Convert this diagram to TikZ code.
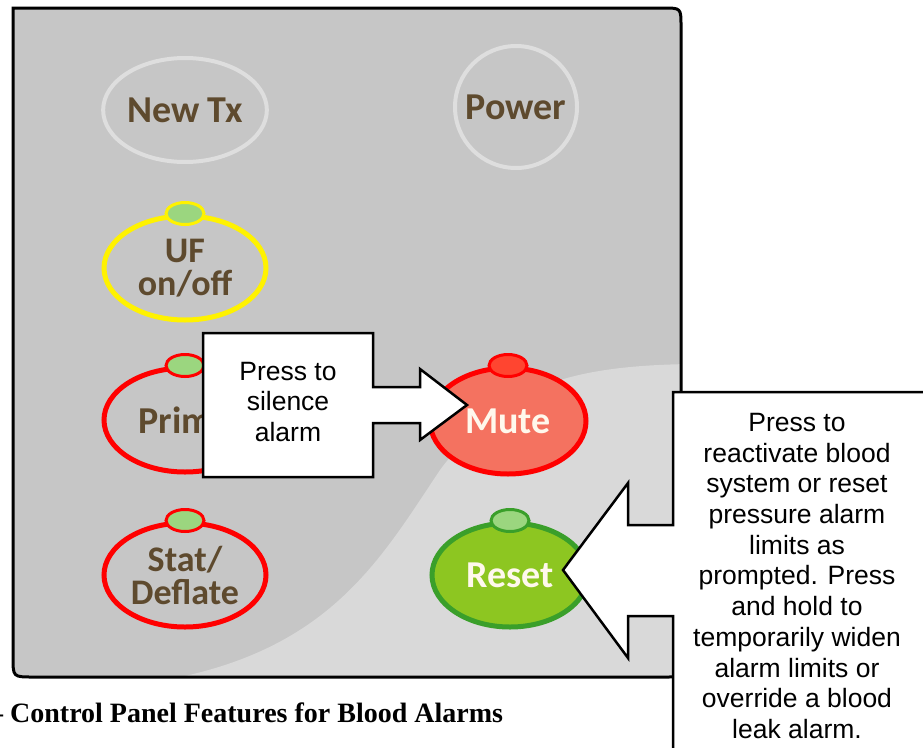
\documentclass[tikz,border=0pt]{standalone}
\usepackage{fontspec}
\setmainfont{Liberation Sans}
\newfontfamily\keyfont{Carlito}
\newfontfamily\capfont{Liberation Serif}
\usetikzlibrary{shapes.geometric}
\definecolor{panelgray}{HTML}{C6C6C6}
\definecolor{panellight}{HTML}{D9D9D9}
\definecolor{ringgray}{HTML}{DEDEDE}
\definecolor{keybrown}{HTML}{5E4A2E}
\definecolor{ledgreen}{HTML}{9BD67F}
\definecolor{mutefill}{HTML}{F47260}
\definecolor{muteled}{HTML}{FF4530}
\definecolor{resetfill}{HTML}{8DC621}
\definecolor{resetring}{HTML}{3A9F2A}
\definecolor{keywhite}{HTML}{FFF8EC}
\begin{document}
\begin{tikzpicture}[x=1pt, y=-1pt,
  key/.style={draw, ellipse, line width=5pt, minimum width=162pt, minimum height=104pt,
    inner sep=0pt, align=center, text=keybrown, font=\keyfont\bfseries\fontsize{38}{33}\selectfont},
  twoline/.style={font=\keyfont\bfseries\fontsize{36}{33}\selectfont},
  led/.style={draw, ellipse, line width=3pt, minimum width=38pt, minimum height=22pt,
    inner sep=0pt, fill=ledgreen},
  note/.style={align=center, font=\fontsize{26.5}{30.7}\selectfont},
  callout/.style={draw, fill=white, line width=2.5pt, line join=miter}]
\useasboundingbox (0,0) rectangle (923,747);

% Panel
\fill[panelgray] (13,8) -- (663,8) .. controls (681,8) .. (681,26) -- (681,662)
  .. controls (681,677) .. (666,677) -- (33,677) .. controls (13,677) .. (13,657) -- cycle;
\begin{scope}
\clip (13,8) -- (663,8) .. controls (681,8) .. (681,26) -- (681,662)
  .. controls (681,677) .. (666,677) -- (33,677) .. controls (13,677) .. (13,657) -- cycle;
\fill[panellight] (165,680) .. controls (330,650) and (380,560) .. (440,470)
  .. controls (500,390) and (560,366) .. (690,364) -- (690,690) -- cycle;
\end{scope}
\draw[line width=3pt] (13,8) -- (663,8) .. controls (681,8) .. (681,26) -- (681,662)
  .. controls (681,677) .. (666,677) -- (33,677) .. controls (13,677) .. (13,657) -- cycle;

% Top keys
\node[key, draw=ringgray, line width=4pt] (newtx) at (185,110) {New Tx};
\node[key, draw=ringgray, line width=4pt, circle, minimum size=122pt] (power) at (516,107) {Power};

% Left column
\node[key, twoline, draw=yellow] (uf) at (185,268) {UF\\on/off};
\node[led, draw=yellow] (ufled) at (uf.north) {};
\node[key, draw=red] (prime) at (185,420) {Prime};
\node[led, draw=red] (primeled) at (prime.north) {};
\node[key, twoline, draw=red] (stat) at (185,575) {Stat/\\Deflate};
\node[led, draw=red] (statled) at (stat.north) {};

% Right column
\node[key, draw=red, fill=mutefill, text=keywhite, minimum width=156pt, minimum height=106pt] (mute) at (508,421) {Mute};
\node[led, draw=red, fill=muteled] (muteled) at (mute.north) {};
\node[key, draw=resetring, fill=resetfill, text=keywhite, minimum width=156pt, minimum height=104pt] (reset) at (510,575) {Reset};
\node[led, draw=resetring] (resetled) at (reset.north) {};

% Callouts
\draw[callout] (203,333) -- (373,333) -- (373,387) -- (420,387) -- (420,369) -- (467,405)
  -- (420,440) -- (420,423) -- (373,423) -- (373,477) -- (203,477) -- cycle;
\node[note] (silence) at (288,402) {Press to\\silence\\alarm};
\draw[callout] (673,392) -- (940,392) -- (940,760) -- (673,760) -- (673,616) -- (628,616)
  -- (628,658) -- (563,570) -- (628,483) -- (628,525) -- (673,525) -- cycle;
\node[note] (reactivate) at (797,576) {Press to\\reactivate blood\\system or reset\\pressure alarm\\limits as\\prompted. Press\\and hold to\\temporarily widen\\alarm limits or\\override a blood\\leak alarm.};

% Caption
\node[anchor=base west, inner sep=0pt, font=\capfont\bfseries\fontsize{28}{32}\selectfont] (caption) at (-11,722) {– Control Panel Features for Blood Alarms};
\end{tikzpicture}
\end{document}
